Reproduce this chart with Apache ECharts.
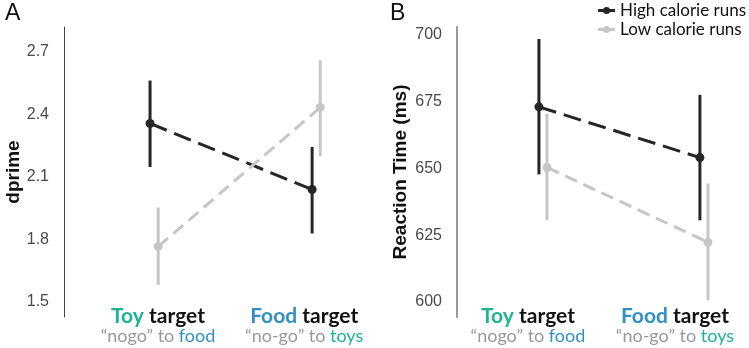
<!DOCTYPE html>
<html>
<head>
<meta charset="utf-8">
<script src="https://cdn.jsdelivr.net/npm/echarts@6/dist/echarts.min.js"></script>
<style>
  html, body { margin: 0; padding: 0; background: #fff; }
  #main { width: 749px; height: 348px; }
</style>
</head>
<body>
<div id="main"></div>
<script>
// x positions: 1 = Toy target, 2 = Food target
var conditions = [1, 2];
var dodge = 0.025;

// panel A: dprime
var dHighMean = [2.357, 2.040];
var dHighLo = [2.148, 1.829];
var dHighHi = [2.563, 2.244];
var dLowMean = [1.766, 2.434];
var dLowLo = [1.582, 2.200];
var dLowHi = [1.954, 2.660];
var dTicks = [1.5, 1.8, 2.1, 2.4, 2.7];

// panel B: reaction time (ms)
var rtHighMean = [673.1, 654.1];
var rtHighLo = [647.8, 630.6];
var rtHighHi = [698.5, 677.6];
var rtLowMean = [650.4, 622.4];
var rtLowLo = [630.6, 600.7];
var rtLowHi = [670.5, 644.4];
var rtTicks = [600, 625, 650, 675, 700];

var seriesNames = ['High calorie runs', 'Low calorie runs'];
var colHigh = '#262626';
var colLow = '#c6c6c6';

var dom = document.getElementById('main');
var myChart = echarts.init(dom, null, { renderer: 'canvas' });

function pts(means, off) {
  return conditions.map(function (c, i) { return [c + off, means[i]]; });
}
function bars(lo, hi, off) {
  return conditions.map(function (c, i) { return [c + off, lo[i], hi[i]]; });
}

function errSeries(name, idx, data, color) {
  return {
    name: name,
    type: 'custom',
    xAxisIndex: idx,
    yAxisIndex: idx,
    data: data,
    encode: { x: 0, y: [1, 2] },
    z: 3,
    renderItem: function (params, api) {
      var a = api.coord([api.value(0), api.value(1)]);
      var b = api.coord([api.value(0), api.value(2)]);
      return {
        type: 'line',
        shape: { x1: a[0], y1: a[1], x2: b[0], y2: b[1] },
        style: { stroke: color, lineWidth: 3 }
      };
    }
  };
}

function lineSeries(name, idx, data, color, dash) {
  return {
    name: name,
    type: 'line',
    xAxisIndex: idx,
    yAxisIndex: idx,
    data: data,
    symbol: 'circle',
    symbolSize: 9,
    showSymbol: true,
    z: 4,
    itemStyle: { color: color },
    lineStyle: { color: color, width: 3, type: dash },
    emphasis: { disabled: true }
  };
}

var tickFont = { color: '#4a4a4a', fontSize: 16, fontFamily: 'Liberation Sans' };

var labelRich = {
  teal: { color: '#1db394', fontSize: 21, fontWeight: 'bold', fontFamily: 'Lato', lineHeight: 21 },
  blue: { color: '#3390c2', fontSize: 21, fontWeight: 'bold', fontFamily: 'Lato', lineHeight: 21 },
  blk: { color: '#111111', fontSize: 21, fontWeight: 'bold', fontFamily: 'Lato', lineHeight: 21 },
  gr: { color: '#999999', fontSize: 18, fontFamily: 'Lato', lineHeight: 19 },
  teal2: { color: '#1db394', fontSize: 18, fontFamily: 'Lato', lineHeight: 19 },
  blue2: { color: '#3390c2', fontSize: 18, fontFamily: 'Lato', lineHeight: 19 }
};
var xLabels = [
  '{teal|Toy }{blk|target}\n{gr|\u201cnogo\u201d to }{blue2|food}',
  '{blue|Food }{blk|target}\n{gr|\u201cno-go\u201d to }{teal2|toys}'
];

function xAxisFor(idx, min, max, labelPos) {
  return {
    type: 'value',
    gridIndex: idx,
    min: min,
    max: max,
    axisLine: { show: false },
    axisTick: { show: false },
    splitLine: { show: false },
    axisLabel: {
      customValues: labelPos,
      margin: -11,
      formatter: function (v) { return v < 1.5 ? xLabels[0] : xLabels[1]; },
      rich: labelRich
    }
  };
}

function yAxisFor(idx, min, max, ticks, name, lineColor, lineWidth, gap) {
  return {
    type: 'value',
    gridIndex: idx,
    min: min,
    max: max,
    name: name,
    nameLocation: 'middle',
    nameGap: gap,
    nameTextStyle: { color: '#111', fontSize: 19, fontWeight: 'bold', fontFamily: 'Liberation Sans' },
    axisLine: { show: true, lineStyle: { color: lineColor, width: lineWidth } },
    axisTick: { show: false },
    splitLine: { show: false },
    axisLabel: Object.assign({ customValues: ticks, margin: 15 }, tickFont)
  };
}

var option = {
  animation: false,
  backgroundColor: '#ffffff',
  title: [
    { text: 'A', left: 0, top: -3, textStyle: { fontSize: 23, fontWeight: 'normal', color: '#111', fontFamily: 'Liberation Sans' } },
    { text: 'B', left: 385, top: -3, textStyle: { fontSize: 23, fontWeight: 'normal', color: '#111', fontFamily: 'Liberation Sans' } }
  ],
  legend: {
    data: seriesNames,
    orient: 'vertical',
    right: -2,
    top: -3,
    itemGap: 2,
    itemWidth: 17,
    itemHeight: 9,
    textStyle: { fontSize: 17, color: '#111', fontFamily: 'Lato' },
    lineStyle: { type: 'solid', width: 3 }
  },
  grid: [
    { left: 64, top: 27, width: 317, height: 290 },
    { left: 457, top: 27, width: 292, height: 290 }
  ],
  xAxis: [
    xAxisFor(0, 0.444, 2.4, [1.024, 1.926]),
    xAxisFor(1, 0.466, 2.28, [0.907, 1.82])
  ],
  yAxis: [
    yAxisFor(0, 1.428, 2.82, dTicks, 'dprime', '#444444', 1, 40),
    yAxisFor(1, 594.4, 703, rtTicks, 'Reaction Time (ms)', '#9a9a9a', 2, 47)
  ],
  series: [
    lineSeries(seriesNames[0], 0, pts(dHighMean, -dodge), colHigh, [18, 8]),
    lineSeries(seriesNames[1], 0, pts(dLowMean, dodge), colLow, [13, 7]),
    errSeries(seriesNames[0], 0, bars(dHighLo, dHighHi, -dodge), colHigh),
    errSeries(seriesNames[1], 0, bars(dLowLo, dLowHi, dodge), colLow),
    lineSeries(seriesNames[0], 1, pts(rtHighMean, -dodge), colHigh, [18, 8]),
    lineSeries(seriesNames[1], 1, pts(rtLowMean, dodge), colLow, [13, 7]),
    errSeries(seriesNames[0], 1, bars(rtHighLo, rtHighHi, -dodge), colHigh),
    errSeries(seriesNames[1], 1, bars(rtLowLo, rtLowHi, dodge), colLow)
  ]
};

if (option && typeof option === 'object') {
  myChart.setOption(option);
}
</script>
</body>
</html>
